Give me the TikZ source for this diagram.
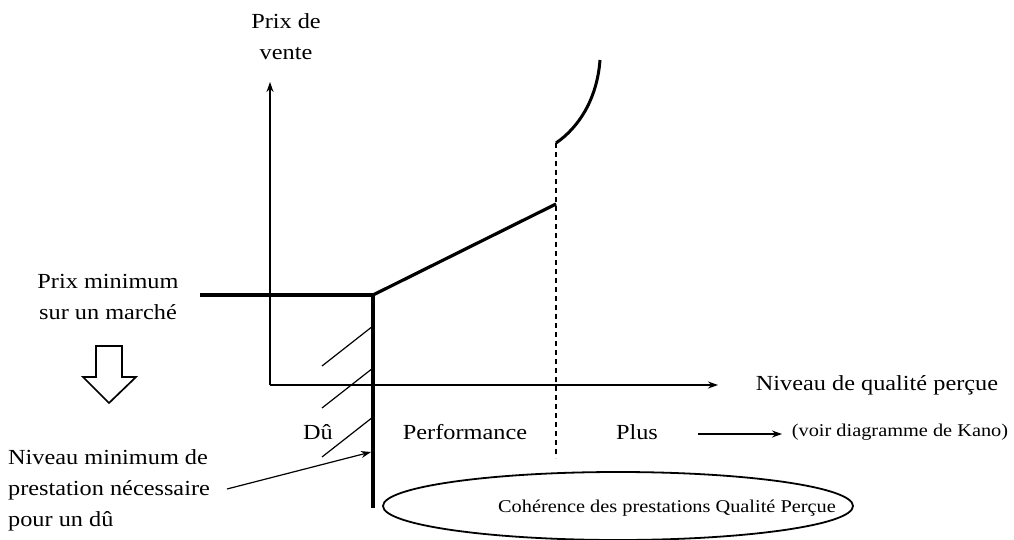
\documentclass[tikz,border=0pt]{standalone}
\usepackage{fontspec}
\setmainfont[FakeStretch=1.13]{Liberation Serif}
\usetikzlibrary{arrows.meta,shapes.geometric}
\begin{document}
\begin{tikzpicture}[x=1pt,y=-1pt,
  lbl/.style={font=\fontsize{21.5}{31}\selectfont, inner sep=0pt, align=center},
  small/.style={font=\fontsize{18}{20}\selectfont, inner sep=0pt},
  axis/.style={line width=1.5pt, -{Stealth[length=10pt,width=7pt]}},
  heavy/.style={line width=3.2pt},
  hatch/.style={line width=1.2pt},
  thinarrow/.style={line width=1.2pt, -{Stealth[length=10pt,width=7pt]}}]
\useasboundingbox (0,0) rectangle (1014,540);
% axes
\coordinate (O) at (270,385);
\coordinate (ytip) at (270,82);
\coordinate (xtip) at (718,385);
\draw[axis] (O) -- (ytip);
\draw[axis] (O) -- (xtip);
\node[lbl] (ylab) at (286,37) {Prix de\\vente};
\node[lbl] (xlab) at (877,385) {Niveau de qualité perçue};
% price curve
\coordinate (pm) at (200,295);
\coordinate (K) at (373,295);
\coordinate (Kb) at (373,508);
\coordinate (S) at (556,204);
\coordinate (D1) at (556,143);
\coordinate (D0) at (556,458);
\coordinate (C) at (600,60);
\draw[heavy] (pm) -- (K) -- (Kb);
\draw[heavy] (K) -- (S);
\draw[line width=1.2pt, dash pattern=on 5pt off 4pt] (D1) -- (D0);
\draw[heavy, line width=3pt] (D1) .. controls (578,128) and (597,100) .. (C);
% hatches
\coordinate (h1a) at (322,366); \coordinate (h1b) at (373,326);
\coordinate (h2a) at (322,408); \coordinate (h2b) at (373,368);
\coordinate (h3a) at (322,457); \coordinate (h3b) at (373,417);
\draw[hatch] (h1a) -- (h1b);
\draw[hatch] (h2a) -- (h2b);
\draw[hatch] (h3a) -- (h3b);
% left labels
\node[lbl] (pmin) at (108,297) {Prix minimum\\sur un marché};
\node[lbl, align=left, anchor=west] (nmin) at (8,490) {Niveau minimum de\\prestation nécessaire\\pour un dû};
\coordinate (na) at (227,489);
\coordinate (nb) at (371,452);
\draw[thinarrow] (na) -- (nb);
% hollow arrow
\draw[line width=1.7pt, line join=miter] (96,346) -- (122,346) -- (122,377) -- (136,377) -- (109,403) -- (83,377) -- (96,377) -- cycle;
% zone labels
\node[lbl] (du) at (318,432) {Dû};
\node[lbl] (perf) at (465,432) {Performance};
\node[lbl] (plus) at (637,432) {Plus};
\node[small] (kano) at (900,432) {(voir diagramme de Kano)};
\coordinate (pa) at (698,434);
\coordinate (pb) at (782,434);
\draw[thinarrow] (pa) -- (pb);
% ellipse
\node[draw, ellipse, line width=1.8pt, minimum width=470pt, minimum height=68pt, inner sep=0pt] (ell) at (618,506) {};
\node[small] (coh) at (667,508) {Cohérence des prestations Qualité Perçue};
\end{tikzpicture}
\end{document}
